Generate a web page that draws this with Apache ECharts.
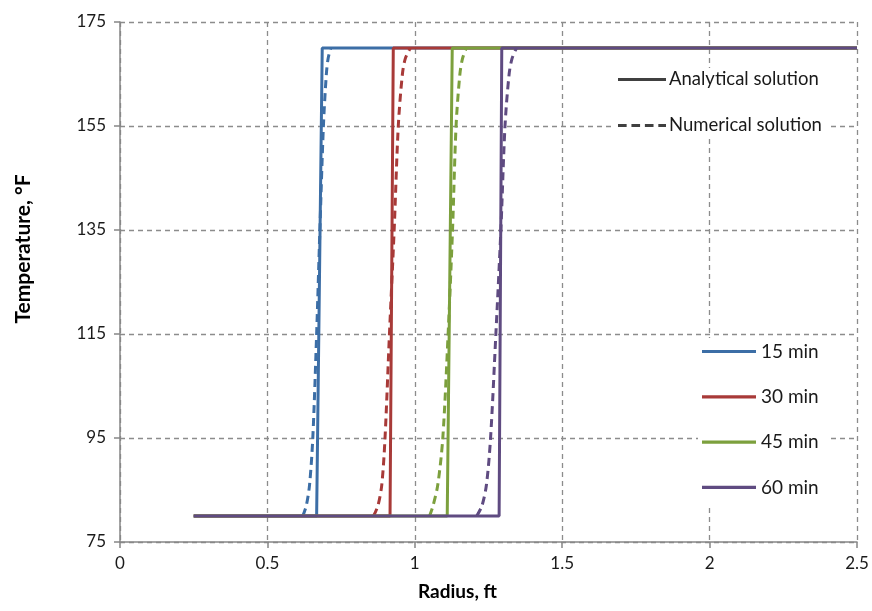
<!DOCTYPE html>
<html>
<head>
<meta charset="utf-8">
<script src="https://cdn.jsdelivr.net/npm/echarts@6/dist/echarts.min.js"></script>
<style>
  html, body { margin: 0; padding: 0; background: #fff; }
  #chart { width: 872px; height: 611px; }
</style>
</head>
<body>
<div id="chart"></div>
<script>
// Temperature front vs. radius at four times after injection start
const timeLabels = ['15 min', '30 min', '45 min', '60 min'];
const lineColors = ['#3c6ea6', '#a83a38', '#7ca03d', '#5f4b81'];

// Analytical solution: sharp front [radius ft, temperature °F]
const analytical15 = [[0.25, 80], [0.667, 80], [0.686, 170], [2.5, 170]];
const analytical30 = [[0.25, 80], [0.916, 80], [0.927, 170], [2.5, 170]];
const analytical45 = [[0.25, 80], [1.110, 80], [1.127, 170], [2.5, 170]];
const analytical60 = [[0.25, 80], [1.286, 80], [1.295, 170], [2.5, 170]];

// Numerical solution: smeared front
const numerical15 = [[0.620, 80], [0.632, 82], [0.643, 86], [0.654, 95], [0.667, 115], [0.678, 135], [0.690, 155], [0.700, 165], [0.706, 168], [0.715, 170]];
const numerical30 = [[0.860, 80], [0.875, 82], [0.888, 86], [0.899, 95], [0.914, 115], [0.930, 135], [0.944, 155], [0.958, 165], [0.968, 168], [0.985, 170]];
const numerical45 = [[1.050, 80], [1.062, 82], [1.078, 86], [1.095, 95], [1.113, 115], [1.128, 135], [1.140, 155], [1.153, 165], [1.162, 168], [1.175, 170]];
const numerical60 = [[1.210, 80], [1.228, 82], [1.243, 86], [1.257, 95], [1.275, 115], [1.292, 135], [1.306, 155], [1.320, 165], [1.330, 168], [1.345, 170]];

const analyticalSets = [analytical15, analytical30, analytical45, analytical60];
const numericalSets = [numerical15, numerical30, numerical45, numerical60];

const fontFamily = 'Lato, "Open Sans", sans-serif';
const gridDash = { color: '#8c8c8c', width: 1.3, type: [5, 4] };
const dashPattern = [8, 5];

// Legend key shapes: a solid bar and a dashed bar
const solidIcon = 'path://M0,0H50V3H0Z';
const dashedIcon = 'path://M0,0H9V3H0Z M14,0H23V3H14Z M28,0H37V3H28Z M42,0H50V3H42Z';

const series = [];
timeLabels.forEach((label, i) => {
  series.push({
    name: label + ' numerical',
    type: 'line',
    data: numericalSets[i],
    smooth: 0.3,
    symbol: 'none',
    lineStyle: { color: lineColors[i], width: 3, type: dashPattern },
    itemStyle: { color: lineColors[i] },
    silent: true
  });
  series.push({
    name: label,
    type: 'line',
    data: analyticalSets[i],
    symbol: 'none',
    lineStyle: { color: lineColors[i], width: 3 },
    itemStyle: { color: lineColors[i] },
    silent: true
  });
});
// Legend keys for the line styles
series.push({
  name: 'Analytical solution', type: 'line', data: [], symbol: 'none',
  lineStyle: { color: '#404040', width: 3 }, itemStyle: { color: '#404040' }
});
series.push({
  name: 'Numerical solution', type: 'line', data: [], symbol: 'none',
  lineStyle: { color: '#404040', width: 3, type: dashPattern }, itemStyle: { color: '#404040' }
});

const chart = echarts.init(document.getElementById('chart'), null, { renderer: 'canvas' });
chart.setOption({
  animation: false,
  backgroundColor: '#fff',
  grid: { left: 120, right: 15, top: 22, bottom: 69 },
  xAxis: {
    type: 'value', min: 0, max: 2.5, interval: 0.5,
    name: 'Radius, ft', nameLocation: 'middle', nameGap: 40,
    nameTextStyle: { fontFamily, fontSize: 19, fontWeight: 'bold', color: '#000', padding: [0, 62, 0, 0] },
    axisLine: { lineStyle: { color: '#868686', width: 1.5 } },
    axisTick: { show: true, length: 6, lineStyle: { color: '#868686', width: 1.5 } },
    axisLabel: { fontFamily, fontSize: 17, color: '#1a1a1a', margin: 13 },
    splitLine: { show: true, lineStyle: gridDash }
  },
  yAxis: {
    type: 'value', min: 75, max: 175, interval: 20,
    name: 'Temperature, °F', nameLocation: 'middle', nameGap: 86, nameRotate: 90,
    nameTextStyle: { fontFamily, fontSize: 21, fontWeight: 'bold', color: '#000', padding: [0, 0, 0, 66] },
    axisLine: { show: true, lineStyle: { color: '#868686', width: 1.5 } },
    axisTick: { show: true, length: 6, lineStyle: { color: '#868686', width: 1.5 } },
    axisLabel: { fontFamily, fontSize: 17, color: '#1a1a1a', margin: 14 },
    splitLine: { show: true, lineStyle: gridDash }
  },
  legend: [
    {
      data: [
        { name: 'Analytical solution', icon: solidIcon },
        { name: 'Numerical solution', icon: dashedIcon }
      ],
      orient: 'vertical', left: 614, top: 68,
      itemWidth: 48, itemHeight: 14, itemGap: 27,
      padding: [2, 8, 2, 4],
      backgroundColor: '#fff',
      textStyle: { fontFamily, fontSize: 18.5, color: '#1a1a1a', padding: [0, 0, 0, -2] },
      selectedMode: false
    },
    {
      data: timeLabels.map(name => ({ name, icon: solidIcon })),
      orient: 'vertical', left: 698, top: 338,
      itemWidth: 54, itemHeight: 14, itemGap: 26.3,
      padding: [4, 10, 8, 4],
      backgroundColor: '#fff',
      textStyle: { fontFamily, fontSize: 19, color: '#1a1a1a', padding: [0, 0, 0, 0] },
      selectedMode: false
    }
  ],
  series
});
</script>
</body>
</html>
